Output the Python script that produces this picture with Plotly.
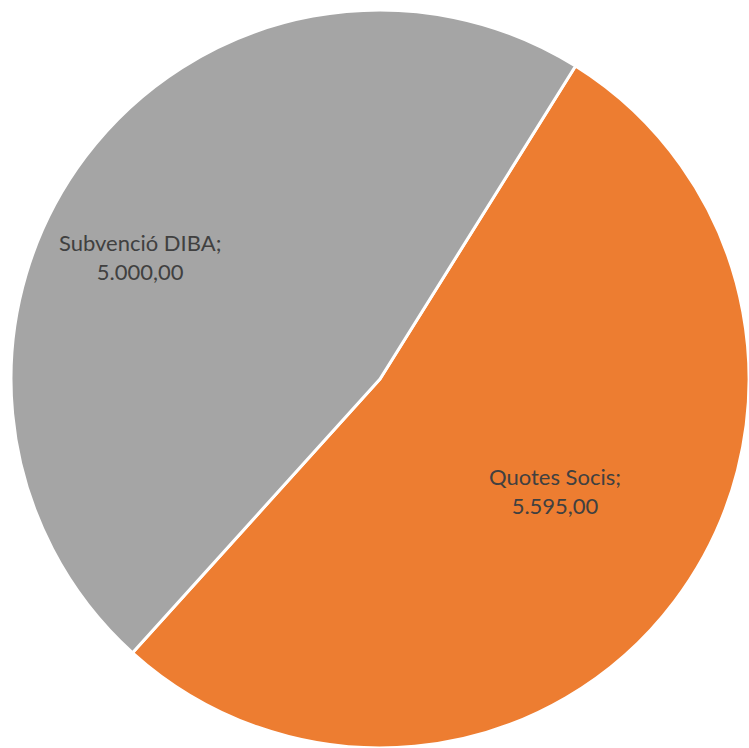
import plotly.graph_objects as go

labels = ["Quotes Socis", "Subvenció DIBA"]
values = [5595.00, 5000.00]
value_text = ["5.595,00", "5.000,00"]
colors = ["#ED7D31", "#A5A5A5"]

W, H = 749, 748

fig = go.Figure(go.Pie(
    labels=labels,
    values=values,
    sort=False,
    direction="clockwise",
    rotation=32,
    marker=dict(colors=colors, line=dict(color="white", width=3)),
    textinfo="none",
    hoverinfo="label+value",
    showlegend=False,
    domain=dict(x=[11 / W, 1.0], y=[0.0, 738 / H]),
))

label_px = [(555, 491), (140, 257)]
for (px, py), lab, vt in zip(label_px, labels, value_text):
    fig.add_annotation(
        x=px / W, y=1 - py / H, xref="paper", yref="paper",
        xanchor="center", yanchor="middle",
        text=f"{lab};<br>{vt}", showarrow=False,
        font=dict(family="Lato, Open Sans, sans-serif", size=22, color="#404040"),
        align="center",
    )

fig.update_layout(
    width=W, height=H,
    margin=dict(l=0, r=0, t=0, b=0),
    paper_bgcolor="white", plot_bgcolor="white",
)

fig.write_html(
    "out.html",
    config={"displayModeBar": False},
    post_script="document.body.style.margin='0';document.body.style.overflow='hidden';",
)
